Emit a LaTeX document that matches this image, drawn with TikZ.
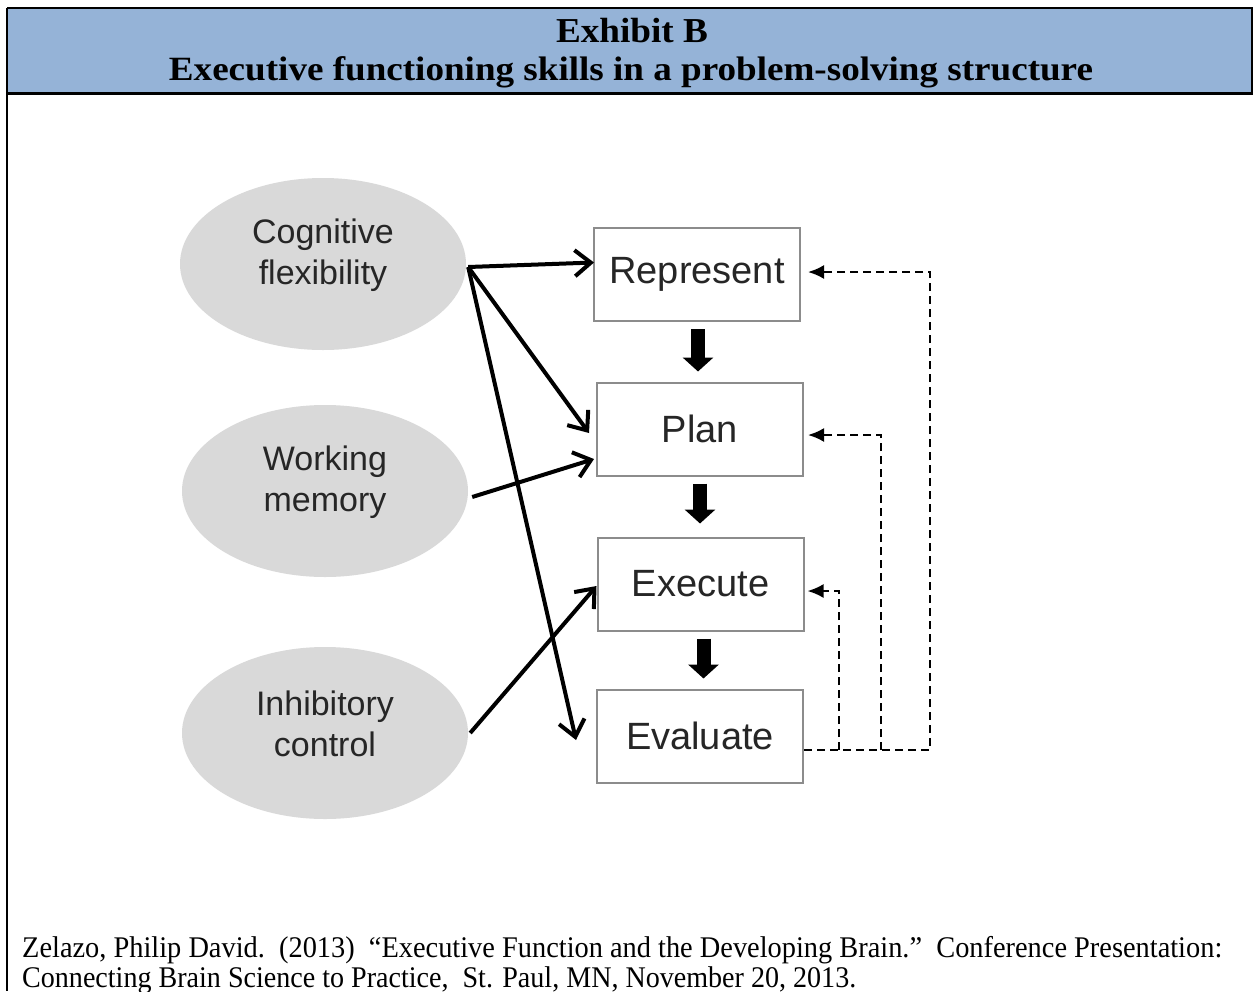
\documentclass[tikz,border=0pt]{standalone}
\usepackage{fontspec}
\setmainfont{Liberation Serif}
\newfontfamily\arialf{Liberation Sans}
\usetikzlibrary{arrows.meta,shapes.geometric}
\definecolor{hdrblue}{RGB}{149,179,215}
\definecolor{ovalgray}{RGB}{217,217,217}
\definecolor{boxgray}{RGB}{140,140,140}
% scale a line of text horizontally to a given width, keeping its height
\newcommand\fitwidth[2]{\resizebox{#1}{\height}{#2}}
\tikzset{
  skill/.style={ellipse, fill=ovalgray, minimum width=286pt, minimum height=172pt,
    inner sep=0pt},
  skilltext/.style={align=center, text=black!85, font=\arialf\fontsize{34}{41}\selectfont},
  stage/.style={rectangle, draw=boxgray, line width=2pt, fill=white,
    minimum width=206pt, minimum height=93pt, inner sep=0pt, text=black!85,
    font=\arialf\fontsize{38}{40}\selectfont},
  link/.style={line width=4pt, -{Straight Barb[length=16pt,width=26pt,line width=4pt]}},
  blockarr/.style={line width=14pt, -{Triangle[length=14pt,width=30pt]}},
  feedback/.style={line width=2.2pt, dash pattern=on 8pt off 5pt,
    -{Latex[length=16pt,width=14pt]}},
  rule/.style={line width=2pt, black},
}
\begin{document}
\begin{tikzpicture}[x=1pt,y=-1pt]
\useasboundingbox (0,0) rectangle (1253,991);
\fill[white] (0,0) rectangle (1253,991);

% title band
\fill[hdrblue] (7,8) rectangle (1253,93);
\draw[rule] (7,8) -- (1253,8);
\draw[rule] (1252,8) -- (1252,93);
\draw[line width=2.5pt] (7,93.5) -- (1253,93.5);
\draw[rule] (7,8) -- (7,991);
\node[anchor=base, inner sep=0pt] (title1) at (632,42)
  {\fitwidth{152pt}{\bfseries\fontsize{35}{38}\selectfont Exhibit B}};
\node[anchor=base, inner sep=0pt] (title2) at (631,80)
  {\fitwidth{924pt}{\bfseries\fontsize{34}{36}\selectfont Executive functioning skills in a problem-solving structure}};

% executive functions
\node[skill, label={[skilltext, yshift=9pt]center:Cognitive\\flexibility}] (cf) at (323,264) {};
\node[skill, label={[skilltext, yshift=9pt]center:Working\\memory}] (wm) at (325,491) {};
\node[skill, label={[skilltext, yshift=9pt]center:Inhibitory\\control}] (ic) at (325,733) {};

% problem-solving stages
\node[stage] (rep) at (697,274.5) {Represent};
\node[stage] (plan) at (700,429) {Plan};
\node[stage] (exe) at (700.5,584) {Execute};
\node[stage] (eval) at (700,736) {Evaluate};

% stage sequence
\draw[blockarr] ([xshift=1pt,yshift=-7pt]rep.south) -- ([xshift=-2pt,yshift=10pt]plan.north);
\draw[blockarr] ([xshift=0pt,yshift=-7pt]plan.south) -- ([xshift=-0.5pt,yshift=13pt]exe.north);
\draw[blockarr] ([xshift=3pt,yshift=-7pt]exe.south) -- ([xshift=3.5pt,yshift=10pt]eval.north);

% skills feeding the stages
\coordinate (cfout) at ([xshift=2pt,yshift=-3pt]cf.east);
\draw[link] (cfout) -- ([xshift=1pt,yshift=12pt]rep.west);
\draw[link] (cfout) -- ([xshift=-7pt,yshift=-4pt]plan.west);
\draw[link] (cfout) -- ([xshift=-20pt,yshift=-4pt]eval.west);
\draw[link] ([xshift=4pt,yshift=-6pt]wm.east) -- ([xshift=-2pt,yshift=-30pt]plan.west);
\draw[link] ([xshift=2pt,yshift=0pt]ic.east) -- ([xshift=0pt,yshift=-2pt]exe.west);

% feedback from evaluation
\draw[feedback] ([yshift=-14pt]eval.east) -- ++(126,0) |- ([xshift=7pt,yshift=2.5pt]rep.east);
\draw[feedback] ([xshift=77pt,yshift=-14pt]eval.east) |- ([xshift=4pt,yshift=-6pt]plan.east);
\draw[feedback] ([xshift=35pt,yshift=-14pt]eval.east) |- ([xshift=3pt,yshift=-7pt]exe.east);

% source
\node[anchor=base west, inner sep=0pt] (src1) at (22,957)
  {\fitwidth{1200pt}{\fontsize{30}{32}\selectfont Zelazo, Philip David.\ \ (2013)\ \ “Executive Function and the Developing Brain.”\ \ Conference Presentation:}};
\node[anchor=base west, inner sep=0pt] (src2) at (22,987)
  {\fitwidth{834pt}{\fontsize{30}{32}\selectfont Connecting Brain Science to Practice,\ \ St. Paul, MN, November 20, 2013.}};
\end{tikzpicture}
\end{document}
